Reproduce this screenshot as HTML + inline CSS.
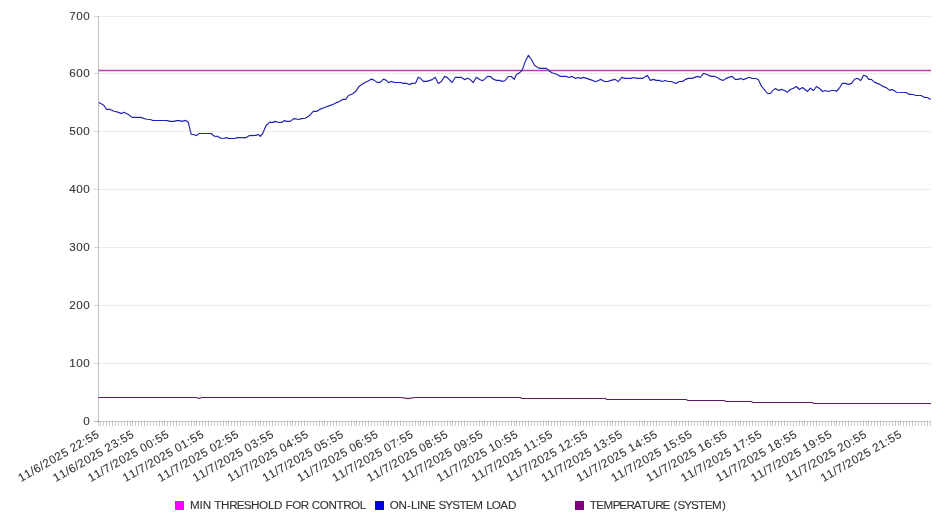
<!DOCTYPE html>
<html><head><meta charset="utf-8"><style>
html,body{margin:0;padding:0;background:#fff;width:946px;height:526px;overflow:hidden}
svg{display:block;will-change:transform}
.t{font-family:"Liberation Sans", sans-serif;font-size:11.66px;fill:#333333;stroke:#333333;stroke-width:0.1px}
</style></head><body>
<svg width="946" height="526" viewBox="0 0 946 526">
<rect width="946" height="526" fill="#fff"/>
<line x1="98" y1="363.5" x2="931" y2="363.5" stroke="#ececec" stroke-width="1"/>
<line x1="98" y1="305.5" x2="931" y2="305.5" stroke="#ececec" stroke-width="1"/>
<line x1="98" y1="247.5" x2="931" y2="247.5" stroke="#ececec" stroke-width="1"/>
<line x1="98" y1="189.5" x2="931" y2="189.5" stroke="#ececec" stroke-width="1"/>
<line x1="98" y1="131.5" x2="931" y2="131.5" stroke="#ececec" stroke-width="1"/>
<line x1="98" y1="73.5" x2="931" y2="73.5" stroke="#ececec" stroke-width="1"/>
<line x1="98" y1="16.5" x2="931" y2="16.5" stroke="#ececec" stroke-width="1"/>
<line x1="94" y1="421.5" x2="98" y2="421.5" stroke="#d4d4d4" stroke-width="1"/>
<line x1="94" y1="363.5" x2="98" y2="363.5" stroke="#d4d4d4" stroke-width="1"/>
<line x1="94" y1="305.5" x2="98" y2="305.5" stroke="#d4d4d4" stroke-width="1"/>
<line x1="94" y1="247.5" x2="98" y2="247.5" stroke="#d4d4d4" stroke-width="1"/>
<line x1="94" y1="189.5" x2="98" y2="189.5" stroke="#d4d4d4" stroke-width="1"/>
<line x1="94" y1="131.5" x2="98" y2="131.5" stroke="#d4d4d4" stroke-width="1"/>
<line x1="94" y1="73.5" x2="98" y2="73.5" stroke="#d4d4d4" stroke-width="1"/>
<line x1="94" y1="16.5" x2="98" y2="16.5" stroke="#d4d4d4" stroke-width="1"/>
<line x1="98.5" y1="16" x2="98.5" y2="422" stroke="#c0c0c0" stroke-width="1"/>
<line x1="94" y1="421.5" x2="931" y2="421.5" stroke="rgba(0,0,0,0.16)" stroke-width="1"/>
<path d="M98.5 421V426M100.5 421V426M103.5 421V426M106.5 421V426M109.5 421V426M112.5 421V426M115.5 421V426M118.5 421V426M121.5 421V426M124.5 421V426M127.5 421V426M130.5 421V426M132.5 421V426M135.5 421V426M138.5 421V426M141.5 421V426M144.5 421V426M147.5 421V426M150.5 421V426M153.5 421V426M156.5 421V426M159.5 421V426M162.5 421V426M164.5 421V426M167.5 421V426M170.5 421V426M173.5 421V426M176.5 421V426M179.5 421V426M182.5 421V426M185.5 421V426M188.5 421V426M191.5 421V426M194.5 421V426M196.5 421V426M199.5 421V426M202.5 421V426M205.5 421V426M208.5 421V426M211.5 421V426M214.5 421V426M217.5 421V426M220.5 421V426M223.5 421V426M226.5 421V426M228.5 421V426M231.5 421V426M234.5 421V426M237.5 421V426M240.5 421V426M243.5 421V426M246.5 421V426M249.5 421V426M252.5 421V426M255.5 421V426M258.5 421V426M260.5 421V426M263.5 421V426M266.5 421V426M269.5 421V426M272.5 421V426M275.5 421V426M278.5 421V426M281.5 421V426M284.5 421V426M287.5 421V426M290.5 421V426M292.5 421V426M295.5 421V426M298.5 421V426M301.5 421V426M304.5 421V426M307.5 421V426M310.5 421V426M313.5 421V426M316.5 421V426M319.5 421V426M322.5 421V426M324.5 421V426M327.5 421V426M330.5 421V426M333.5 421V426M336.5 421V426M339.5 421V426M342.5 421V426M345.5 421V426M348.5 421V426M351.5 421V426M354.5 421V426M356.5 421V426M359.5 421V426M362.5 421V426M365.5 421V426M368.5 421V426M371.5 421V426M374.5 421V426M377.5 421V426M380.5 421V426M383.5 421V426M386.5 421V426M388.5 421V426M391.5 421V426M394.5 421V426M397.5 421V426M400.5 421V426M403.5 421V426M406.5 421V426M409.5 421V426M412.5 421V426M415.5 421V426M418.5 421V426M420.5 421V426M423.5 421V426M426.5 421V426M429.5 421V426M432.5 421V426M435.5 421V426M438.5 421V426M441.5 421V426M444.5 421V426M447.5 421V426M450.5 421V426M452.5 421V426M455.5 421V426M458.5 421V426M461.5 421V426M464.5 421V426M467.5 421V426M470.5 421V426M473.5 421V426M476.5 421V426M479.5 421V426M482.5 421V426M484.5 421V426M487.5 421V426M490.5 421V426M493.5 421V426M496.5 421V426M499.5 421V426M502.5 421V426M505.5 421V426M508.5 421V426M511.5 421V426M514.5 421V426M516.5 421V426M519.5 421V426M522.5 421V426M525.5 421V426M528.5 421V426M531.5 421V426M534.5 421V426M537.5 421V426M540.5 421V426M543.5 421V426M546.5 421V426M548.5 421V426M551.5 421V426M554.5 421V426M557.5 421V426M560.5 421V426M563.5 421V426M566.5 421V426M569.5 421V426M572.5 421V426M575.5 421V426M578.5 421V426M580.5 421V426M583.5 421V426M586.5 421V426M589.5 421V426M592.5 421V426M595.5 421V426M598.5 421V426M601.5 421V426M604.5 421V426M607.5 421V426M610.5 421V426M612.5 421V426M615.5 421V426M618.5 421V426M621.5 421V426M624.5 421V426M627.5 421V426M630.5 421V426M633.5 421V426M636.5 421V426M639.5 421V426M642.5 421V426M644.5 421V426M647.5 421V426M650.5 421V426M653.5 421V426M656.5 421V426M659.5 421V426M662.5 421V426M665.5 421V426M668.5 421V426M671.5 421V426M674.5 421V426M676.5 421V426M679.5 421V426M682.5 421V426M685.5 421V426M688.5 421V426M691.5 421V426M694.5 421V426M697.5 421V426M700.5 421V426M703.5 421V426M706.5 421V426M708.5 421V426M711.5 421V426M714.5 421V426M717.5 421V426M720.5 421V426M723.5 421V426M726.5 421V426M729.5 421V426M732.5 421V426M735.5 421V426M738.5 421V426M740.5 421V426M743.5 421V426M746.5 421V426M749.5 421V426M752.5 421V426M755.5 421V426M758.5 421V426M761.5 421V426M764.5 421V426M767.5 421V426M770.5 421V426M772.5 421V426M775.5 421V426M778.5 421V426M781.5 421V426M784.5 421V426M787.5 421V426M790.5 421V426M793.5 421V426M796.5 421V426M799.5 421V426M802.5 421V426M804.5 421V426M807.5 421V426M810.5 421V426M813.5 421V426M816.5 421V426M819.5 421V426M822.5 421V426M825.5 421V426M828.5 421V426M831.5 421V426M834.5 421V426M836.5 421V426M839.5 421V426M842.5 421V426M845.5 421V426M848.5 421V426M851.5 421V426M854.5 421V426M857.5 421V426M860.5 421V426M863.5 421V426M866.5 421V426M868.5 421V426M871.5 421V426M874.5 421V426M877.5 421V426M880.5 421V426M883.5 421V426M886.5 421V426M889.5 421V426M892.5 421V426M895.5 421V426M898.5 421V426M900.5 421V426M903.5 421V426M906.5 421V426M909.5 421V426M912.5 421V426M915.5 421V426M918.5 421V426M921.5 421V426M924.5 421V426M927.5 421V426M930.5 421V426" stroke="rgba(0,0,0,0.2)" stroke-width="1" fill="none"/>
<text x="83.35" y="424.8" class="t">0</text>
<text x="69.29 76.34 83.34" y="366.8" class="t">100</text>
<text x="69.21 76.34 83.34" y="308.8" class="t">200</text>
<text x="69.37 76.34 83.34" y="250.8" class="t">300</text>
<text x="69.35 76.34 83.34" y="192.8" class="t">400</text>
<text x="69.31 76.34 83.34" y="134.8" class="t">500</text>
<text x="69.35 76.34 83.34" y="76.8" class="t">600</text>
<text x="69.33 76.34 83.34" y="19.8" class="t">700</text>
<polyline points="98.5,397.5 196.0,397.5 199.0,398.5 202.0,397.5 401.0,397.5 408.0,398.6 415.0,397.5 520.0,397.5 522.0,398.5 605.0,398.5 607.0,399.5 686.0,399.5 688.0,400.5 724.0,400.5 726.0,401.5 751.0,401.5 753.0,402.5 812.0,402.5 814.0,403.5 931.0,403.5" fill="none" stroke="#601860" stroke-width="1.2" stroke-linejoin="round"/>
<line x1="98.5" y1="70.5" x2="931" y2="70.5" stroke="#bc3abc" stroke-width="1.3"/>
<polyline points="98.8,102.6 101.7,104.0 104.0,105.5 106.4,109.3 109.7,109.3 114.0,111.2 117.8,112.1 121.6,113.6 124.0,112.3 128.3,114.5 132.1,117.4 140.7,117.4 146.4,119.3 150.2,119.5 153.0,120.5 165.0,120.5 167.6,120.6 169.9,121.4 174.1,121.4 176.4,120.6 179.8,120.6 182.1,121.4 185.5,120.4 188.2,122.1 191.2,134.3 194.2,134.7 196.5,135.6 199.2,133.5 211.0,133.5 214.4,136.2 217.8,136.4 220.9,138.3 224.7,138.1 226.6,137.6 228.8,138.5 234.9,138.5 237.2,137.6 246.3,137.6 249.4,135.6 256.2,135.4 258.1,134.3 260.4,136.4 263.0,132.8 266.1,125.5 269.5,122.4 272.9,122.4 275.2,121.4 279.0,122.5 281.7,122.4 284.4,120.6 286.6,121.4 290.4,121.4 292.7,119.3 294.3,118.6 298.6,119.5 301.4,118.6 305.2,118.3 309.0,116.1 313.3,111.4 316.6,111.4 320.4,109.1 325.2,107.2 329.0,105.9 333.3,104.3 336.6,102.6 339.5,101.5 342.8,99.3 345.7,99.3 348.5,95.5 352.8,93.8 355.7,91.2 359.2,86.3 364.9,82.5 368.3,81.0 371.4,79.1 374.0,80.1 377.1,82.4 380.1,82.4 383.5,79.1 386.2,80.2 388.5,82.7 391.1,81.4 394.6,82.5 400.7,82.5 403.0,83.4 406.8,83.4 409.4,84.6 412.1,83.4 415.5,83.3 418.2,77.2 420.4,78.3 423.4,81.4 426.8,81.4 432.2,79.6 435.2,77.3 438.3,83.4 441.3,81.4 444.7,76.4 447.4,77.6 452.0,82.5 455.4,77.3 461.1,77.3 464.5,79.6 467.6,78.3 470.2,79.6 473.3,82.5 476.3,77.2 480.1,79.8 482.8,80.6 484.7,79.1 487.4,76.4 490.3,76.5 493.4,79.3 496.4,80.4 499.5,80.4 502.1,81.4 504.8,80.8 508.2,76.5 511.3,76.5 514.3,79.3 516.2,74.7 518.9,73.2 521.5,70.9 523.0,67.9 525.3,61.4 528.4,55.3 531.4,59.5 534.5,65.2 538.3,67.9 540.6,68.4 546.3,68.4 549.7,71.3 552.0,72.7 556.8,74.3 560.3,76.4 566.0,76.4 569.0,77.5 572.1,76.4 575.5,78.4 578.2,77.5 580.4,78.4 583.5,77.4 587.3,78.6 591.1,79.9 595.7,81.7 598.3,80.5 601.0,79.4 604.4,81.5 607.8,81.5 610.9,80.4 615.1,79.4 618.2,81.6 621.8,77.4 624.9,78.4 631.0,78.4 633.6,77.5 637.1,78.4 642.4,78.4 647.3,75.4 650.4,80.4 653.4,79.4 656.1,80.4 659.1,80.4 662.2,81.5 665.2,80.5 668.3,81.5 671.3,81.5 675.9,83.6 679.3,81.5 682.6,81.4 685.3,79.6 688.0,78.4 692.2,78.4 694.5,77.4 697.5,76.4 700.2,77.5 703.6,73.3 707.4,74.8 711.2,76.4 715.0,76.4 718.0,77.9 720.3,79.4 723.0,80.5 725.7,78.6 728.7,77.4 732.1,76.4 735.2,79.4 738.2,79.4 740.9,78.4 743.2,79.6 746.6,78.4 749.2,77.3 752.2,78.5 755.7,78.5 758.3,79.5 761.4,86.2 764.8,90.1 767.5,93.5 770.5,93.5 772.4,90.9 775.4,88.4 778.5,90.5 781.5,89.4 784.6,90.5 787.2,92.4 790.3,89.5 793.3,88.2 796.4,86.5 799.4,89.5 802.5,87.5 807.4,91.5 810.4,88.2 813.5,90.5 816.5,86.5 819.5,88.4 822.6,91.5 825.2,90.5 828.3,91.5 831.7,90.5 835.5,90.5 836.3,91.5 839.3,88.2 842.3,83.4 845.4,83.4 848.4,84.4 851.5,83.4 854.5,79.3 857.2,78.3 860.6,80.6 863.7,75.3 866.7,76.4 868.6,79.3 871.3,79.3 874.7,82.4 879.2,84.1 883.0,86.4 886.4,87.7 889.8,90.4 892.1,89.4 896.7,92.2 906.2,92.5 909.2,94.4 913.0,94.5 916.1,95.5 921.0,95.5 924.5,97.4 927.5,97.5 930.6,99.5" fill="none" stroke="#2020b4" stroke-width="1.15" stroke-linejoin="round"/>
<text x="-91.42 -84.43 -77.39 -73.65 -66.69 -63.09 -55.95 -49.11 -42.01 -35.22 -31.61 -24.61 -17.48 -13.80 -6.80" y="0" transform="translate(100.10 436.65) rotate(-30)" class="t">11/6/2025 22:55</text>
<text x="-91.42 -84.43 -77.39 -73.65 -66.69 -63.09 -55.95 -49.11 -42.01 -35.22 -31.61 -24.45 -17.48 -13.80 -6.80" y="0" transform="translate(134.99 436.65) rotate(-30)" class="t">11/6/2025 23:55</text>
<text x="-91.42 -84.43 -77.39 -73.67 -66.69 -63.09 -55.95 -49.11 -42.01 -35.22 -31.46 -24.46 -17.48 -13.80 -6.80" y="0" transform="translate(169.88 436.65) rotate(-30)" class="t">11/7/2025 00:55</text>
<text x="-91.42 -84.43 -77.39 -73.67 -66.69 -63.09 -55.95 -49.11 -42.01 -35.22 -31.46 -24.52 -17.48 -13.80 -6.80" y="0" transform="translate(204.77 436.65) rotate(-30)" class="t">11/7/2025 01:55</text>
<text x="-91.42 -84.43 -77.39 -73.67 -66.69 -63.09 -55.95 -49.11 -42.01 -35.22 -31.46 -24.61 -17.48 -13.80 -6.80" y="0" transform="translate(239.66 436.65) rotate(-30)" class="t">11/7/2025 02:55</text>
<text x="-91.42 -84.43 -77.39 -73.67 -66.69 -63.09 -55.95 -49.11 -42.01 -35.22 -31.46 -24.45 -17.48 -13.80 -6.80" y="0" transform="translate(274.55 436.65) rotate(-30)" class="t">11/7/2025 03:55</text>
<text x="-91.42 -84.43 -77.39 -73.67 -66.69 -63.09 -55.95 -49.11 -42.01 -35.22 -31.46 -24.47 -17.48 -13.80 -6.80" y="0" transform="translate(309.44 436.65) rotate(-30)" class="t">11/7/2025 04:55</text>
<text x="-91.42 -84.43 -77.39 -73.67 -66.69 -63.09 -55.95 -49.11 -42.01 -35.22 -31.46 -24.51 -17.48 -13.80 -6.80" y="0" transform="translate(344.33 436.65) rotate(-30)" class="t">11/7/2025 05:55</text>
<text x="-91.42 -84.43 -77.39 -73.67 -66.69 -63.09 -55.95 -49.11 -42.01 -35.22 -31.46 -24.46 -17.48 -13.80 -6.80" y="0" transform="translate(379.22 436.65) rotate(-30)" class="t">11/7/2025 06:55</text>
<text x="-91.42 -84.43 -77.39 -73.67 -66.69 -63.09 -55.95 -49.11 -42.01 -35.22 -31.46 -24.49 -17.48 -13.80 -6.80" y="0" transform="translate(414.11 436.65) rotate(-30)" class="t">11/7/2025 07:55</text>
<text x="-91.42 -84.43 -77.39 -73.67 -66.69 -63.09 -55.95 -49.11 -42.01 -35.22 -31.46 -24.46 -17.48 -13.80 -6.80" y="0" transform="translate(449.00 436.65) rotate(-30)" class="t">11/7/2025 08:55</text>
<text x="-91.42 -84.43 -77.39 -73.67 -66.69 -63.09 -55.95 -49.11 -42.01 -35.22 -31.46 -24.50 -17.48 -13.80 -6.80" y="0" transform="translate(483.89 436.65) rotate(-30)" class="t">11/7/2025 09:55</text>
<text x="-91.42 -84.43 -77.39 -73.67 -66.69 -63.09 -55.95 -49.11 -42.01 -35.22 -31.52 -24.46 -17.48 -13.80 -6.80" y="0" transform="translate(518.78 436.65) rotate(-30)" class="t">11/7/2025 10:55</text>
<text x="-91.42 -84.43 -77.39 -73.67 -66.69 -63.09 -55.95 -49.11 -42.01 -35.22 -31.52 -24.52 -17.48 -13.80 -6.80" y="0" transform="translate(553.67 436.65) rotate(-30)" class="t">11/7/2025 11:55</text>
<text x="-91.42 -84.43 -77.39 -73.67 -66.69 -63.09 -55.95 -49.11 -42.01 -35.22 -31.52 -24.61 -17.48 -13.80 -6.80" y="0" transform="translate(588.56 436.65) rotate(-30)" class="t">11/7/2025 12:55</text>
<text x="-91.42 -84.43 -77.39 -73.67 -66.69 -63.09 -55.95 -49.11 -42.01 -35.22 -31.52 -24.45 -17.48 -13.80 -6.80" y="0" transform="translate(623.45 436.65) rotate(-30)" class="t">11/7/2025 13:55</text>
<text x="-91.42 -84.43 -77.39 -73.67 -66.69 -63.09 -55.95 -49.11 -42.01 -35.22 -31.52 -24.47 -17.48 -13.80 -6.80" y="0" transform="translate(658.34 436.65) rotate(-30)" class="t">11/7/2025 14:55</text>
<text x="-91.42 -84.43 -77.39 -73.67 -66.69 -63.09 -55.95 -49.11 -42.01 -35.22 -31.52 -24.51 -17.48 -13.80 -6.80" y="0" transform="translate(693.23 436.65) rotate(-30)" class="t">11/7/2025 15:55</text>
<text x="-91.42 -84.43 -77.39 -73.67 -66.69 -63.09 -55.95 -49.11 -42.01 -35.22 -31.52 -24.46 -17.48 -13.80 -6.80" y="0" transform="translate(728.12 436.65) rotate(-30)" class="t">11/7/2025 16:55</text>
<text x="-91.42 -84.43 -77.39 -73.67 -66.69 -63.09 -55.95 -49.11 -42.01 -35.22 -31.52 -24.49 -17.48 -13.80 -6.80" y="0" transform="translate(763.01 436.65) rotate(-30)" class="t">11/7/2025 17:55</text>
<text x="-91.42 -84.43 -77.39 -73.67 -66.69 -63.09 -55.95 -49.11 -42.01 -35.22 -31.52 -24.46 -17.48 -13.80 -6.80" y="0" transform="translate(797.90 436.65) rotate(-30)" class="t">11/7/2025 18:55</text>
<text x="-91.42 -84.43 -77.39 -73.67 -66.69 -63.09 -55.95 -49.11 -42.01 -35.22 -31.52 -24.50 -17.48 -13.80 -6.80" y="0" transform="translate(832.79 436.65) rotate(-30)" class="t">11/7/2025 19:55</text>
<text x="-91.42 -84.43 -77.39 -73.67 -66.69 -63.09 -55.95 -49.11 -42.01 -35.22 -31.61 -24.46 -17.48 -13.80 -6.80" y="0" transform="translate(867.68 436.65) rotate(-30)" class="t">11/7/2025 20:55</text>
<text x="-91.42 -84.43 -77.39 -73.67 -66.69 -63.09 -55.95 -49.11 -42.01 -35.22 -31.61 -24.52 -17.48 -13.80 -6.80" y="0" transform="translate(902.57 436.65) rotate(-30)" class="t">11/7/2025 21:55</text>
<rect x="175" y="501" width="9" height="9" fill="#ff00ff"/>
<text x="189.89 199.49 202.64 210.95 214.25 221.09 229.22 236.64 243.69 250.94 259.09 268.00 274.12 282.55 285.62 292.17 300.82 308.67 311.74 319.64 328.40 336.54 343.24 350.89 359.80" y="509.4" class="t">MIN THRESHOLD FOR CONTROL</text>
<rect x="375" y="501" width="9" height="9" fill="#0000f0"/>
<text x="389.80 398.56 406.92 410.89 416.99 420.12 428.00 435.41 438.55 445.35 452.26 459.38 465.84 473.14 482.73 486.28 491.77 500.31 508.01" y="509.4" class="t">ON-LINE SYSTEM LOAD</text>
<rect x="575" y="501" width="9" height="9" fill="#800080"/>
<text x="589.80 596.27 603.55 612.77 619.33 626.52 633.81 640.41 647.14 655.16 662.56 669.97 673.38 677.41 684.21 691.12 698.24 704.70 712.00 722.09" y="509.4" class="t">TEMPERATURE (SYSTEM)</text>
</svg>
</body></html>
